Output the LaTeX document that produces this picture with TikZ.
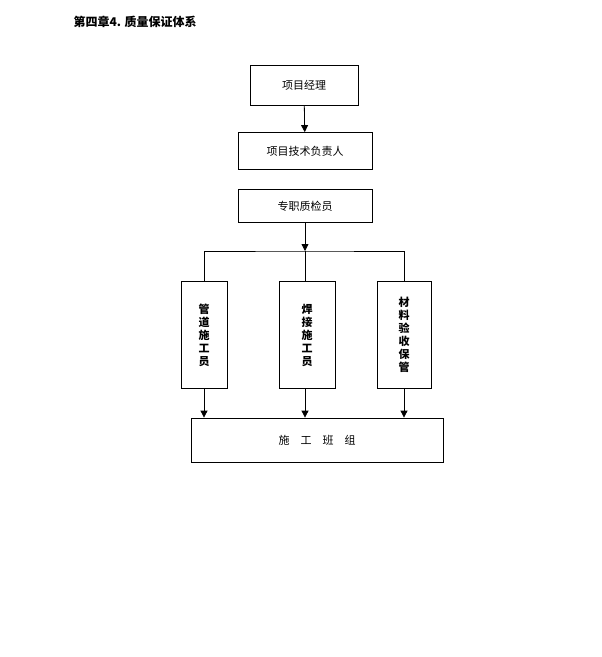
\documentclass[tikz,border=0pt]{standalone}
\usepackage{fontspec}
\newfontfamily\cjk{Noto Sans CJK SC}
\usetikzlibrary{arrows.meta}
\tikzset{
  box/.style={draw,thick,font=\cjk\fontsize{11}{13}\selectfont},
  vbox/.style={draw,thick,font=\cjk\bfseries\fontsize{11}{13}\selectfont,align=center},
  flow/.style={thick,-{Triangle[length=7pt,width=7pt]}}
}
\begin{document}
\begin{tikzpicture}[x=1pt,y=-1pt]
  \useasboundingbox (0,0) rectangle (602,657);
  \node[anchor=west,font=\cjk\bfseries\fontsize{12}{14}\selectfont] (title) at (70,22) {第四章4. 质量保证体系};
  % boxes
  \node[box,minimum width=108pt,minimum height=40pt] (pm) at (304,85) {项目经理};
  \node[box,minimum width=134pt,minimum height=37pt] (tech) at (305,151) {项目技术负责人};
  \node[box,minimum width=134pt,minimum height=33pt] (qc) at (305,206) {专职质检员};
  \coordinate (split) at (305,251);
  \node[vbox,minimum width=46pt,minimum height=107pt] (pipe) at (204,335) {管\\道\\施\\工\\员};
  \node[vbox,minimum width=56pt,minimum height=107pt] (weld) at (307,335) {焊\\接\\施\\工\\员};
  \node[vbox,minimum width=54pt,minimum height=107pt] (mat) at (404,335) {材\\料\\验\\收\\保\\管};
  \node[box,minimum width=252pt,minimum height=44pt] (team) at (317,440) {施\quad 工\quad 班\quad 组};
  % connectors
  \draw[flow] (pm) -- (tech);
  \draw[flow] (qc) -- (split);
  \draw[thick] (pipe.north -| 204,0) |- (split) -| (mat.north);
  \draw[thick] (split) -- (weld.north -| split);
  \draw[flow] (pipe.south) -- (pipe.south |- team.north);
  \draw[flow] (weld.south -| split) -- (split |- team.north);
  \draw[flow] (mat.south) -- (mat.south |- team.north);
\end{tikzpicture}
\end{document}
